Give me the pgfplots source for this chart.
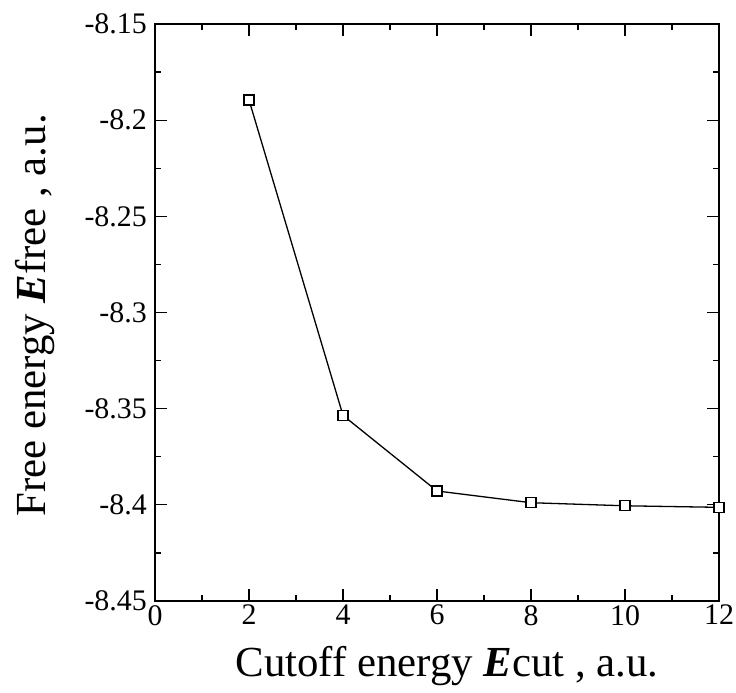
\documentclass[border=0pt]{standalone}
\usepackage{fontspec}
\setmainfont{Liberation Serif}
\usepackage{pgfplots}
\pgfplotsset{compat=1.18}

\begin{document}
\begin{tikzpicture}[x=1bp,y=1bp]
  % fixed page frame around the axis
  \path[use as bounding box] (-155,-92) rectangle (581,601);
  \begin{axis}[
    at={(0,0)}, anchor=south west,
    scale only axis,
    width=564bp, height=577bp,
    xmin=0, xmax=12, ymin=-8.45, ymax=-8.15,
    xtick={0,2,...,12},
    ytick={-8.45,-8.4,-8.35,-8.3,-8.25,-8.2,-8.15},
    yticklabels={-8.45,-8.4,-8.35,-8.3,-8.25,-8.2,-8.15},
    minor x tick num=1,
    minor y tick num=1,
    tick align=inside,
    major tick length=12bp,
    minor tick length=6bp,
    tick style={black, line width=1.2bp},
    axis line style={black, line width=1.6bp},
    ticklabel style={font=\fontsize{30}{31}\selectfont, inner sep=1bp},
    /pgf/number format/assume math mode=true,
    xticklabel style={yshift=-3bp},
    yticklabel style={xshift=-7bp},
    xlabel={Cutoff energy \textbf{\textit{E}}cut , a.u.},
    ylabel={Free energy \textbf{\textit{E}}free , a.u.},
    every axis x label/.style={at={(axis description cs:0.1365,-0.1317)}, anchor=base west,
      font=\fontsize{43}{45}\selectfont},
    every axis y label/.style={at={(axis description cs:-0.195,0.14)}, anchor=base west, rotate=90,
      font=\fontsize{43}{45}\selectfont},
  ]
    \addplot[black, line width=1.3bp, mark=square*,
             mark options={fill=white, draw=black, line width=1.2bp}, mark size=5bp]
      coordinates {
        (2,-8.1895) (4,-8.3535) (6,-8.3928) (8,-8.3989) (10,-8.4005) (12,-8.4013)
      };
  \end{axis}
\end{tikzpicture}
\end{document}
